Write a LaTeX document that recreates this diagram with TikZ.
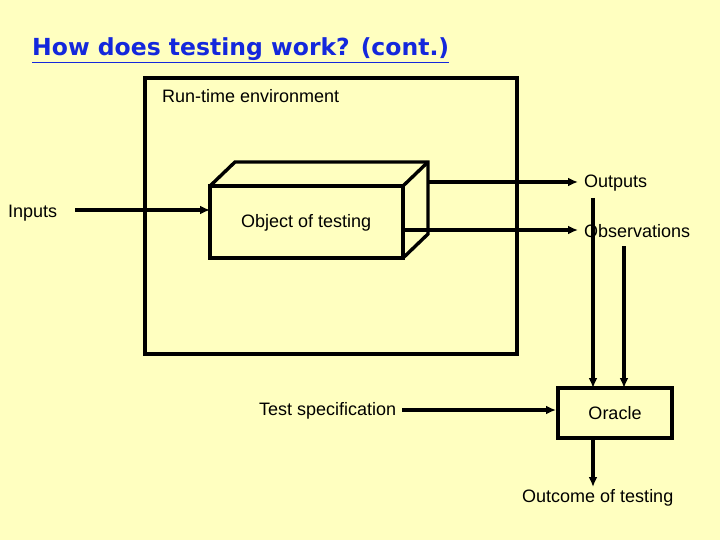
\documentclass[tikz,border=0pt]{standalone}
\usepackage{fontspec}
\usetikzlibrary{arrows.meta}
\setmainfont{Liberation Sans}
\newfontfamily\ttlfont{DejaVu Sans}
\begin{document}
\begin{tikzpicture}[x=1pt,y=-1pt,
  lbl/.style={anchor=west,inner sep=0pt,font=\fontsize{18}{20}\selectfont},
  bw/.style={line width=3.4pt},
  arr/.style={line width=3.4pt,-{Latex[length=10pt,width=9pt]}}]
\fill[fill={rgb,255:red,255;green,255;blue,192}] (0,0) rectangle (720,540);
\useasboundingbox (0,0) rectangle (720,540);
\node[anchor=west,inner sep=0pt,text={rgb,255:red,20;green,40;blue,220},font=\ttlfont\bfseries\fontsize{23.5}{26}\selectfont] (title) at (32,50) {\underline{How does testing work? (cont.)}};
\draw[bw] (145,78) rectangle (517,354);
\node[lbl] (rte) at (162,96) {Run-time environment};
\draw[bw,line join=miter] (210,186) -- (235,162) -- (428,162) -- (428,234) -- (403,258);
\draw[bw] (403,186) -- (428,162);
\node[draw,bw,minimum width=193pt,minimum height=72pt,inner sep=0pt] (obj) at (306.5,222) {};
\node[lbl] (objl) at (241,223) {Object of testing};
\coordinate (bk1) at (428,182);
\coordinate (bk2) at (403,230);
\coordinate (inl) at (75,210);
\node[lbl] (in) at (8,213) {Inputs};
\node[lbl] (out) at (584,183) {Outputs};
\node[lbl] (obs) at (584,231) {Observations};
\node[draw,bw,minimum width=114pt,minimum height=50pt,inner sep=0pt,font=\fontsize{18}{20}\selectfont] (orc) at (615,413) {Oracle};
\node[lbl] (ts) at (259,411) {Test specification};
\node[lbl] (oc) at (522,498) {Outcome of testing};
\coordinate (tsr) at (402,410);
\coordinate (orl) at (556,410);
\draw[arr] (inl) -- (210,210);
\draw[arr] (bk1) -- (578,182);
\draw[arr] (bk2) -- (578,230);
\coordinate (v1) at (593,198);
\coordinate (v2) at (624,246);
\draw[arr] (v1) -- (593,388);
\draw[arr] (v2) -- (624,388);
\draw[arr] (tsr) -- (orl);
\draw[arr] (593,438) -- (593,487);
\end{tikzpicture}
\end{document}
